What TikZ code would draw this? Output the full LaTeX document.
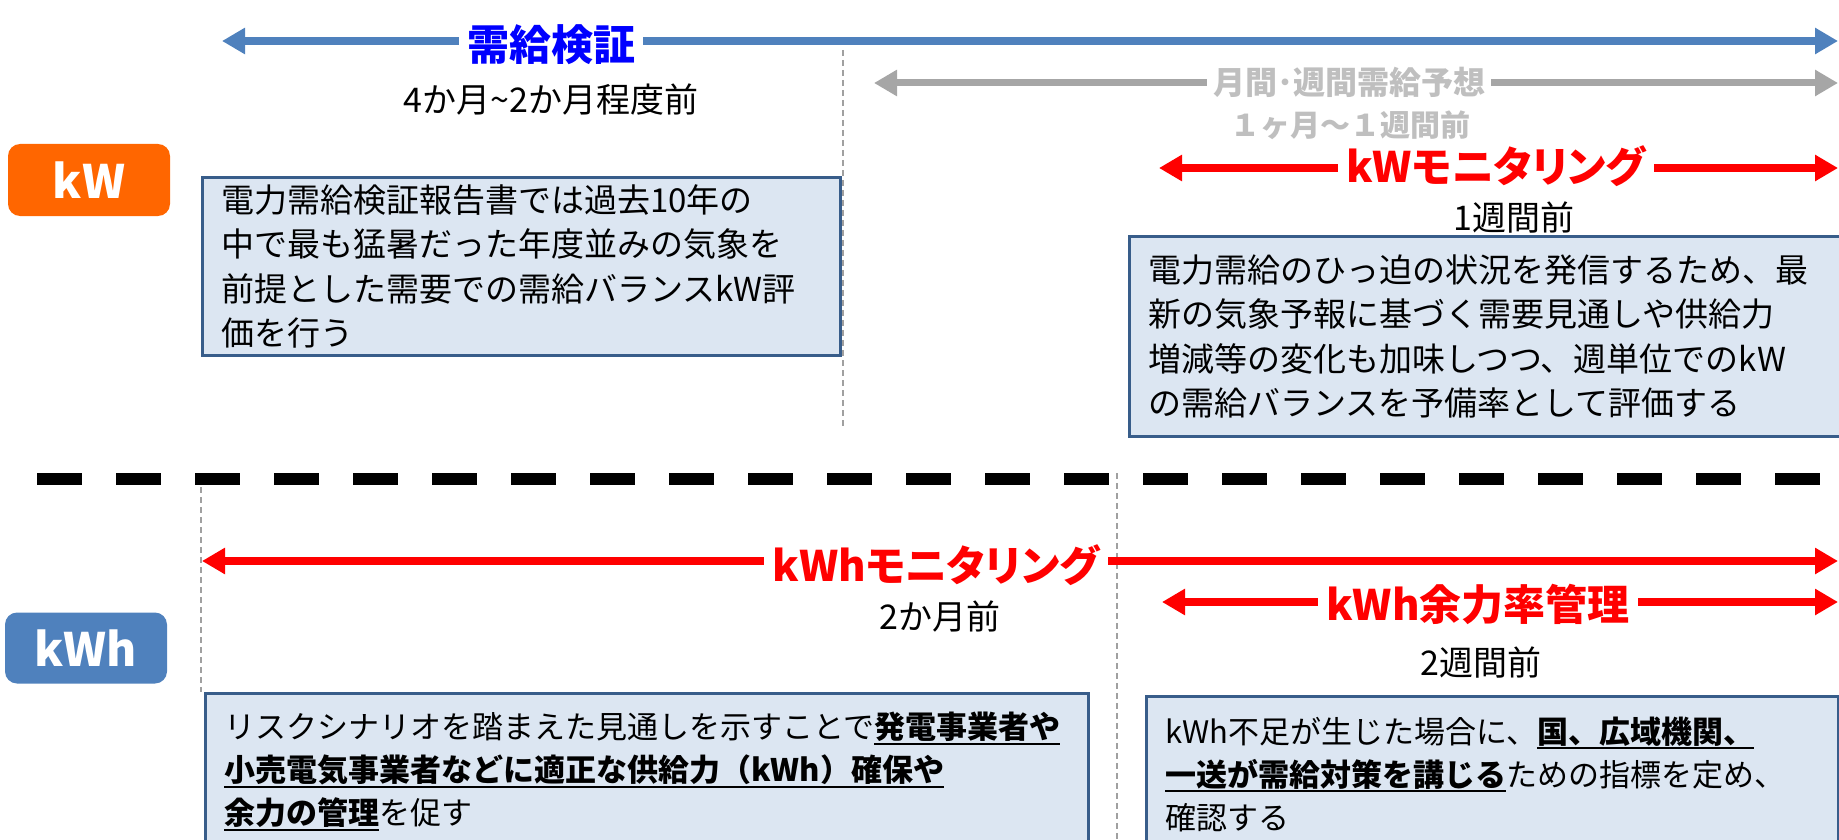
\documentclass[tikz,border=0pt]{standalone}
\usepackage{fontspec}
\setmainfont{Noto Sans CJK JP}
\newfontfamily\headfont[RawFeature=+palt]{Noto Sans CJK JP}
\usetikzlibrary{arrows.meta}

\definecolor{kwOrange}{HTML}{FF6600}
\definecolor{arrBlue}{HTML}{4F81BD}
\definecolor{jkBlue}{HTML}{0000FF}
\definecolor{arrGray}{HTML}{A6A6A6}
\definecolor{labGray}{HTML}{BFBFBF}
\definecolor{monRed}{HTML}{FF0000}
\definecolor{boxFill}{HTML}{DCE6F2}
\definecolor{boxLine}{HTML}{385D8A}
\definecolor{guideGray}{HTML}{A0A0A0}

\newsavebox{\ulbx}
\newcommand{\ulbold}[1]{\leavevmode\sbox{\ulbx}{\bfseries #1}\rlap{\rule[-6pt]{\wd\ulbx}{2pt}}\usebox{\ulbx}}

\begin{document}
\begin{tikzpicture}[x=1pt, y=-1pt,
    arr/.style={line width=8pt, {Triangle[length=23pt,width=25pt]}-{Triangle[length=23pt,width=25pt]}},
    lab/.style={fill=white, inner xsep=8pt, inner ysep=2pt, font=\headfont\fontsize{42}{50}\selectfont\bfseries},
    when/.style={inner sep=0pt, font=\fontsize{34}{40}\selectfont},
    guide/.style={draw=guideGray, line width=1.2pt, dash pattern=on 6pt off 4pt},
    info/.style={draw=boxLine, line width=2.5pt, fill=boxFill, anchor=north west, align=left, inner xsep=19pt, font=\fontsize{33}{44.5}\selectfont},
    badge/.style={rounded corners=12pt, minimum width=162pt, text=white, font=\fontsize{46}{50}\selectfont\bfseries}]

    \useasboundingbox (0,0) rectangle (1839,840);
    \clip (0,0) rectangle (1839,840);

    % Badges
    \node[badge, fill=kwOrange, minimum height=72pt] (kw) at (89,180) {kW};
    \node[badge, fill=arrBlue, minimum height=71pt] (kwh) at (86,648) {kWh};

    % Guides
    \coordinate (g1a) at (843,50);
    \coordinate (g1b) at (843,427);
    \coordinate (g2a) at (201,487);
    \coordinate (g2b) at (201,692);
    \coordinate (g3a) at (1117,473);
    \coordinate (g3b) at (1117,840);
    \draw[guide] (g1a) -- (g1b);
    \draw[guide] (g2a) -- (g2b);
    \draw[guide] (g3a) -- (g3b);

    % kW
    \coordinate (verL) at (222,41);
    \coordinate (verR) at (1838,41);
    \draw[arr, color=arrBlue] (verL) -- (verR);
    \node[lab, text=jkBlue] (ver) at (551,45) {需給検証};
    \node[when] (verT) at (551,100) {4か月\textasciitilde2か月程度前};

    \coordinate (fcL) at (874,83);
    \coordinate (fcR) at (1838,83);
    \draw[arr, color=arrGray, line width=7pt] (fcL) -- (fcR);
    \node[lab, text=labGray, inner xsep=6pt, font=\fontsize{32}{36}\selectfont\bfseries] (fc) at (1349,82) {月間･週間需給予想};
    \node[when, text=labGray, font=\fontsize{30}{36}\selectfont\bfseries] (fcT) at (1350,125) {１ヶ月～１週間前};

    \coordinate (monkwL) at (1159,168);
    \coordinate (monkwR) at (1838,168);
    \draw[arr, color=monRed] (monkwL) -- (monkwR);
    \node[lab, text=monRed] (monkw) at (1496,166) {kWモニタリング};
    \node[when] (monkwT) at (1514,218) {1週間前};

    \node[info, text width=600pt, minimum height=178pt] (boxkwL) at (201,176)
        {電力需給検証報告書では過去10年の\\中で最も猛暑だった年度並みの気象を\\前提とした需要での需給バランスkW評\\価を行う};
    \node[info, text width=674pt, minimum height=200pt] (boxkwR) at (1128,235)
        {電力需給のひっ迫の状況を発信するため、最\\新の気象予報に基づく需要見通しや供給力\\増減等の変化も加味しつつ、週単位でのkW\\の需給バランスを予備率として評価する};

    % Separator
    \coordinate (sepL) at (37,479);
    \coordinate (sepR) at (1830,479);
    \draw[line width=12pt, dash pattern=on 45pt off 34pt] (sepL) -- (sepR);

    % kWh
    \coordinate (monkwhL) at (202,561);
    \coordinate (monkwhR) at (1838,561);
    \draw[arr, color=monRed] (monkwhL) -- (monkwhR);
    \node[lab, text=monRed] (monkwh) at (936,565) {kWhモニタリング};
    \node[when] (monkwhT) at (940,617) {2か月前};

    \coordinate (marL) at (1162,602);
    \coordinate (marR) at (1838,602);
    \draw[arr, color=monRed] (marL) -- (marR);
    \node[lab, text=monRed] (mar) at (1478,604) {kWh余力率管理};
    \node[when] (marT) at (1481,663) {2週間前};

    \node[info, font=\fontsize{31}{43}\selectfont, text width=845pt, minimum height=156pt] (boxkwhL) at (204,692)
        {リスクシナリオを踏まえた見通しを示すことで\ulbold{発電事業者や}\\\ulbold{小売電気事業者などに適正な供給力（kWh）確保や}\\\ulbold{余力の管理}を促す};
    \node[info, font=\fontsize{31}{43}\selectfont, text width=654pt, minimum height=156pt] (boxkwhR) at (1145,695)
        {kWh不足が生じた場合に、\ulbold{国、広域機関、}\\\ulbold{一送が需給対策を講じる}ための指標を定め、\\確認する};
\end{tikzpicture}
\end{document}
